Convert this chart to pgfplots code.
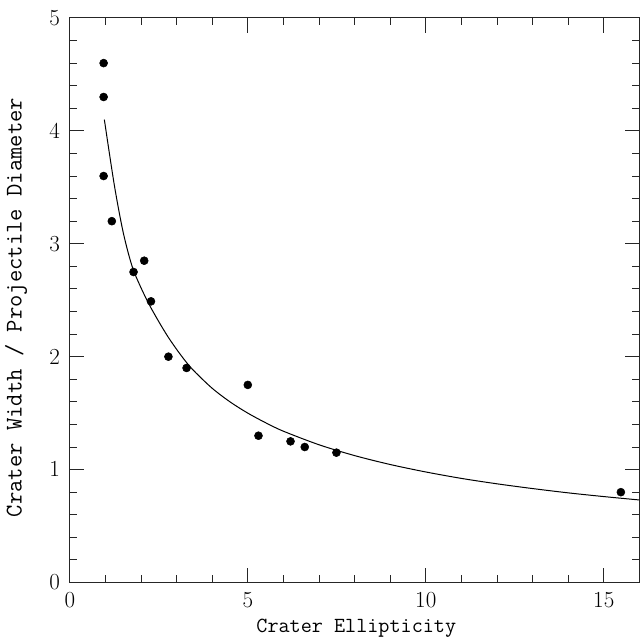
\documentclass[border=0pt]{standalone}
\usepackage{pgfplots}
\pgfplotsset{compat=1.18}
\begin{document}
\begin{tikzpicture}
\begin{axis}[
  scale only axis,
  width=428.25pt, height=424.5pt,
  xmin=0, xmax=16, ymin=0, ymax=5,
  xtick={0,5,10,15}, ytick={0,1,2,3,4,5},
  minor x tick num=4, minor y tick num=4,
  tick align=inside,
  major tick length=11pt, minor tick length=5.5pt,
  axis line style={line width=0.7pt, black!85},
  every tick/.style={line width=0.7pt, black!85},
  tick label style={font=\fontsize{16}{18}\selectfont},
  xticklabel style={yshift=-4pt},
  yticklabel style={xshift=-4pt},
  xlabel={Crater Ellipticity},
  ylabel={Crater Width / Projectile Diameter},
  xlabel style={font=\ttfamily\fontsize{16.2}{18}\selectfont, at={(axis description cs:0.503,-0.0813)}, anchor=center},
  ylabel style={font=\ttfamily\fontsize{18}{20}\selectfont, at={(axis description cs:-0.0946,0.487)}, anchor=center},
  clip=false,
]
\addplot[black, line width=0.75pt, smooth] coordinates {
  (0.97,4.10) (1.25,3.52) (1.5,3.10) (1.75,2.80) (2,2.61) (2.25,2.45)
  (2.5,2.31) (2.75,2.18) (3,2.065) (3.25,1.96) (3.5,1.87) (4,1.72)
  (4.5,1.60) (5,1.50) (5.5,1.415) (6,1.34) (7,1.22) (8,1.124) (9,1.045)
  (10,0.979) (11,0.922) (12,0.874) (13,0.832) (14,0.794) (15,0.761) (16,0.731)
};
\addplot[only marks, mark=*, mark size=3pt, black] coordinates {
  (0.95,4.60) (0.95,4.30) (0.95,3.60) (1.18,3.20) (1.79,2.75)
  (2.09,2.85) (2.28,2.49) (2.77,2.00) (3.28,1.90) (5.0,1.75)
  (5.30,1.30) (6.20,1.25) (6.60,1.20) (7.49,1.15) (15.48,0.80)
};
\end{axis}
\path (current axis.south west) ++(-52.5pt,-43.5pt) coordinate (bbA);
\path (current axis.north east) ++(0.75pt,13.5pt) coordinate (bbB);
\useasboundingbox (bbA) rectangle (bbB);
\end{tikzpicture}
\end{document}
